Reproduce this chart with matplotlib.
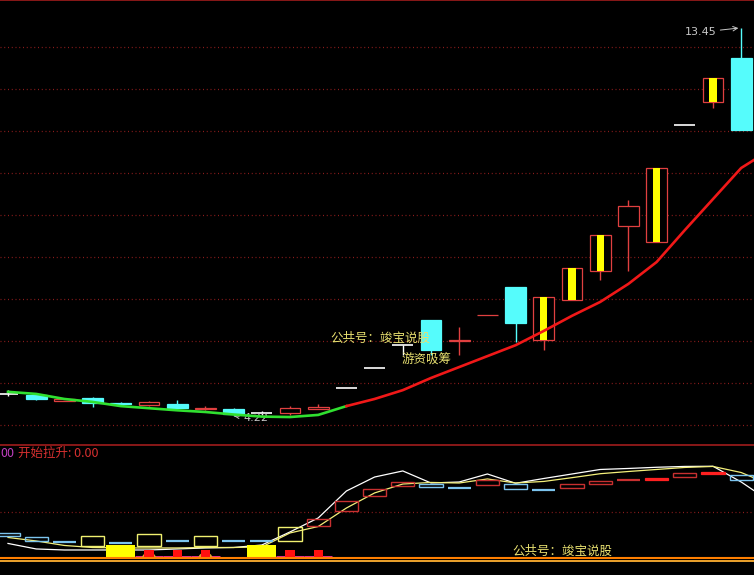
import matplotlib
matplotlib.use('Agg')
import matplotlib.pyplot as plt
from matplotlib.patches import Rectangle, Ellipse

plt.rcParams['font.family'] = ['Noto Sans CJK SC', 'DejaVu Sans']

# ---- main panel: daily candles ----
opens  = [4.74, 4.71, 4.58, 4.65, 4.52, 4.48, 4.51, 4.39, 4.38, 4.28, 4.28, 4.37, 4.88, 5.36,
          5.90, 6.50, 6.00, 6.61, 7.29, 6.02, 6.98, 7.67, 8.74, 8.36, 11.14, 11.69, 12.74]
closes = [4.74, 4.62, 4.61, 4.52, 4.49, 4.54, 4.41, 4.40, 4.26, 4.28, 4.40, 4.43, 4.88, 5.36,
          5.90, 5.79, 6.02, 6.63, 6.43, 7.05, 7.74, 8.52, 9.21, 10.12, 11.14, 12.26, 11.02]
highs  = [4.83, 4.72, 4.62, 4.67, 4.55, 4.57, 4.60, 4.46, 4.41, 4.33, 4.45, 4.50, 4.88, 5.36,
          5.90, 6.50, 6.33, 6.63, 7.29, 7.05, 7.74, 8.52, 9.36, 10.12, 11.14, 12.26, 13.45]
lows   = [4.69, 4.60, 4.57, 4.43, 4.45, 4.45, 4.37, 4.36, 4.22, 4.24, 4.25, 4.37, 4.88, 5.36,
          5.67, 5.67, 5.67, 6.61, 5.98, 5.79, 6.98, 7.45, 7.67, 8.36, 11.14, 11.55, 11.02]
ma_line = [4.79, 4.74, 4.62, 4.55, 4.45, 4.40, 4.35, 4.31, 4.25, 4.20, 4.19, 4.24, 4.45, 4.62,
           4.83, 5.12, 5.38, 5.64, 5.90, 6.24, 6.60, 6.93, 7.36, 7.88, 8.64, 9.38, 10.12, 10.54]
ma_turn = 12          # green before, red after
yellow_mark = [19, 20, 21, 23, 25]

# ---- sub panel ----
sub_hi = [27.5, 22.5, 17.7, 23.9, 16.6, 26.1, 18.8, 23.9, 18.5, 18.5, 33.7, 42.4, 62.0, 75.0,
          82.6, 80.4, 76.4, 84.8, 80.4, 74.2, 80.4, 83.7, 84.5, 86.6, 92.1, 93.2, 89.9]
sub_lo = [23.9, 18.8, 17.7, 13.4, 16.6, 13.0, 18.8, 13.4, 18.5, 18.5, 18.8, 35.1, 51.4, 67.7,
          78.6, 77.5, 76.4, 79.7, 75.3, 74.2, 76.4, 80.8, 84.5, 85.1, 88.4, 91.6, 85.1]
sub_kind = ['b', 'b', 'b', 'y', 'b', 'y', 'b', 'y', 'b', 'b', 'y', 'r', 'r', 'r',
            'r', 'b', 'b', 'r', 'b', 'b', 'r', 'r', 'r', 'R', 'r', 'R', 'b']
white_line = [15.8, 9.8, 8.7, 8.7, 8.7, 8.7, 9.8, 10.9, 11.4, 14.1, 28.3, 43.5, 72.8, 88.0,
              94.6, 81.5, 82.6, 91.3, 81.2, 86.4, 91.3, 96.2, 97.3, 98.6, 99.5, 99.7, 82.6, 62.0]
yellow_line = [22.3, 18.5, 13.6, 11.4, 10.9, 10.9, 10.9, 11.4, 11.4, 12.0, 27.2, 34.2, 54.3, 70.7,
               80.4, 82.1, 81.5, 85.9, 81.5, 83.2, 87.3, 91.6, 94.0, 96.2, 98.4, 99.5, 92.9, 80.0]
yel_sig_idx = [4, 9]
yel_sig_val = 14.0
red_sig_idx = [5, 6, 7, 10, 11]
red_sig_val = 8.7
dome_idx = [5, 7]

RED = '#e04040'
CYAN = '#55fcfc'
GRID = '#8c1c1c'

W, H = 754, 575
fig = plt.figure(figsize=(W / 100, H / 100), dpi=100, facecolor='black')
ax = fig.add_axes([0, 130 / H, 1, 445 / H])
sub = fig.add_axes([0, 0, 1, 130 / H])
xlim = (-8 / 28.2, 746 / 28.2)

for a in (ax, sub):
    a.set_facecolor('black')
    a.set_xlim(*xlim)
    a.set_xticks([])
    a.set_yticks([])
    for s in a.spines.values():
        s.set_visible(False)
    a.spines['top'].set_visible(True)
    a.spines['top'].set_color('#a01c1c')
    a.spines['top'].set_linewidth(1.2)

ax.set_ylim(3.524, 14.119)
sub.set_ylim(-18.5, 122.8)

for p in range(4, 14):
    ax.axhline(p, color=GRID, lw=0.9, ls=(0, (0.8, 2.2)), zorder=0)
sub.axhline(50, color=GRID, lw=0.9, ls=(0, (0.8, 2.2)), zorder=0)

# candles
cw = 0.74
for i in range(len(opens)):
    o, c, h, l = opens[i], closes[i], highs[i], lows[i]
    top, bot = max(o, c), min(o, c)
    if c > o:
        col, face = RED, 'black'
    elif c < o:
        col, face = CYAN, CYAN
    else:
        col, face = 'white', 'white'
    ax.vlines(i, top, h, color=col, lw=1, zorder=2)
    ax.vlines(i, l, bot, color=col, lw=1, zorder=2)
    if c == o:
        ax.hlines(o, i - cw / 2, i + cw / 2, color=col, lw=1.2, zorder=2)
    else:
        ax.add_patch(Rectangle((i - cw / 2, bot), cw, top - bot, facecolor=face,
                               edgecolor=col, lw=0.9, zorder=2))
    if i in yellow_mark:
        ax.add_patch(Rectangle((i - cw * 0.17, bot), cw * 0.34, top - bot,
                               facecolor='#ffff00', lw=0, zorder=3))

ax.plot(range(0, ma_turn + 1), ma_line[:ma_turn + 1], color='#30e030', lw=1.9, zorder=4)
ax.plot(range(ma_turn, len(ma_line)), ma_line[ma_turn:], color='#f01818', lw=1.9, zorder=4)

hi_i = highs.index(max(highs))
lo_i = lows.index(min(lows))
ax.annotate(f'{max(highs):.2f}', xy=(hi_i - 0.1, max(highs)), xytext=(-16, -3),
            textcoords='offset points', ha='right', va='center', color='#c8c8c8', fontsize=8,
            family='DejaVu Sans',
            arrowprops=dict(arrowstyle='->', color='#c8c8c8', lw=0.7, shrinkA=1, shrinkB=0))
ax.annotate(f'{min(lows):.2f}', xy=(lo_i, min(lows)), xytext=(7, -1.5),
            textcoords='offset points', ha='left', va='center', color='#c8c8c8', fontsize=8,
            family='DejaVu Sans',
            arrowprops=dict(arrowstyle='->', color='#c8c8c8', lw=0.7, shrinkA=1, shrinkB=0))

ax.text(11.42, 6.07, '公共号：竣宝说股', color='#e8e070', fontsize=9, ha='left', va='center', zorder=5)
ax.text(13.97, 5.55, '游资吸筹', color='#e8e070', fontsize=9, ha='left', va='center', zorder=5)

# sub panel
n_sub = len(sub_hi)
sub.plot(range(len(white_line)), white_line, color='white', lw=0.9, zorder=2)
sub.plot(range(len(yellow_line)), yellow_line, color='#f4f07a', lw=0.9, zorder=2)

bw = 0.82
kind_col = {'b': '#7cc4ee', 'y': '#f0f070', 'r': '#c83030', 'R': '#ff2020'}
for i in range(n_sub):
    k = sub_kind[i]
    col = kind_col[k]
    if sub_hi[i] == sub_lo[i]:
        sub.hlines(sub_hi[i], i - bw / 2, i + bw / 2, color=col, lw=1.6, zorder=3)
    elif k == 'R':
        sub.add_patch(Rectangle((i - bw / 2, sub_lo[i]), bw, sub_hi[i] - sub_lo[i],
                                facecolor=col, edgecolor=col, lw=0.9, zorder=3))
    else:
        sub.add_patch(Rectangle((i - bw / 2, sub_lo[i]), bw, sub_hi[i] - sub_lo[i],
                                facecolor='none', edgecolor=col, lw=1.0, zorder=3))

for i in red_sig_idx:
    sub.hlines(1.3, i - 0.5, i + 0.5, color='#ff3399', lw=2, zorder=3)
for i in dome_idx:
    dome = Ellipse((i, 0), 0.5, 12, facecolor='#e0a030', lw=0, zorder=3)
    sub.add_patch(dome)
    clip = Rectangle((i - 0.5, 0), 1, 20, transform=sub.transData)
    dome.set_clip_path(clip)
sub.bar(red_sig_idx, [red_sig_val] * len(red_sig_idx), width=0.32, color='#ff1010', zorder=4)
sub.bar(yel_sig_idx, [yel_sig_val] * len(yel_sig_idx), width=1.03, color='#ffff00', zorder=4)

sub.axhline(-0.5, color='#ff7f00', lw=1.5, zorder=5)
sub.axhline(-3.7, color='#ffb030', lw=1.3, zorder=5)

sub.text(0.0, 0.938, '00', transform=sub.transAxes, color='#c040c0', fontsize=9,
         ha='left', va='center')
sub.text(0.024, 0.938, '开始拉升: 0.00', transform=sub.transAxes, color='#d83030', fontsize=9,
         ha='left', va='center')
sub.text(17.87, 7.6, '公共号：竣宝说股', color='#e8e070', fontsize=9, ha='left', va='center', zorder=6)

fig.savefig('out.png', dpi=100, facecolor='black')
